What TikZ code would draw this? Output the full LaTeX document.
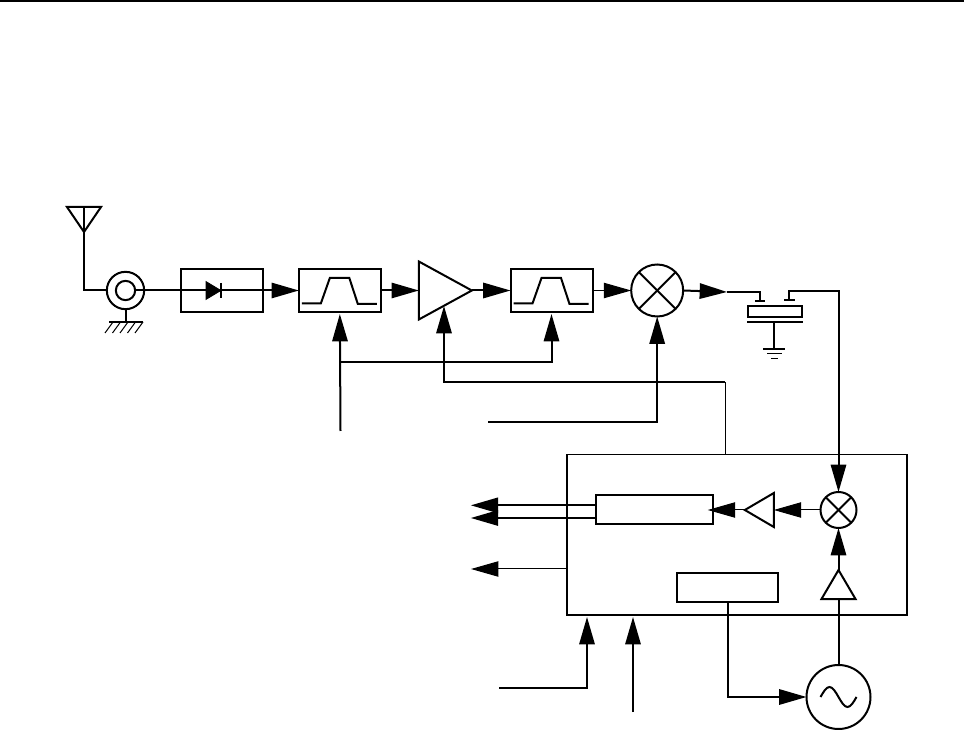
\documentclass[tikz,border=0pt]{standalone}
\usepackage{tikz}
\usetikzlibrary{positioning,arrows.meta,shapes.geometric}

\begin{document}
\begin{tikzpicture}[x=.75pt,y=-.75pt,line join=miter,
  wire/.style={line width=1.5pt},
  hair/.style={line width=.75pt},
  arr/.style={-{Triangle[length=20.5pt,width=11.5pt]},wire},
  arrthin/.style={-{Triangle[length=20.5pt,width=11.5pt]},hair},
  box/.style={draw,wire,inner sep=0pt,outer sep=0pt,minimum width=61.5pt,minimum height=32.25pt},
  tri/.style={isosceles triangle,isosceles triangle stretches,draw,wire,inner sep=0pt,outer sep=0pt},
  band/.style={box,path picture={\draw[wire,shift={(path picture bounding box.center)}]
    (-38,13)--(-19,13)--(-10,-12.5)--(9.5,-12.5)--(18,13.5)--(37,13.5);}},
  mixer/.style={circle,draw,wire,inner sep=0pt,outer sep=0pt,minimum size=#1,path picture={
    \draw[wire] (path picture bounding box.north west)--(path picture bounding box.south east);
    \draw[wire] (path picture bounding box.north east)--(path picture bounding box.south west);}}]
\useasboundingbox (0,0) rectangle (964,730);
\draw[wire] (0,.7)--(964,.7);
% receive chain
\node[tri,shape border rotate=-90,minimum width=25.5pt,minimum height=18.75pt,anchor=north] (ant) at (84,207) {};
\node[circle,draw,wire,inner sep=0pt,outer sep=0pt,minimum size=28pt] (coax) at (125.5,290.5) {};
\node[circle,draw,wire,inner sep=0pt,outer sep=0pt,minimum size=14.5pt] (coaxin) at (125.5,290.5) {};
\node[box,right=27.5pt of coax] (lim) {};
\node[tri,fill=black,minimum width=13.5pt,minimum height=11.25pt,anchor=west,line width=.5pt] (dio) at (206,290.5) {};
\node[band,right=27pt of lim] (bpa) {};
\node[tri,right=28.5pt of bpa,minimum width=43.5pt,minimum height=39.75pt] (amp) {};
\node[band,right=29pt of amp] (bpb) {};
\node[mixer=39pt,right=29pt of bpb] (mixa) {};
\node[draw,wire,inner sep=0pt,outer sep=0pt,minimum width=40.5pt,minimum height=8.25pt] (saw) at (775,311.5) {};
% downconverter box
\node[minimum width=255pt,minimum height=120pt,inner sep=0pt,outer sep=0pt] (chip) at (737,534.5) {};
\node[mixer=27pt] (mixb) at (838.5,510) {};
\node[tri,shape border rotate=180,left=35pt of mixb,minimum width=25.5pt,minimum height=21.75pt] (drv) {};
\node[box,minimum width=87.75pt,minimum height=21.75pt,left=24pt of drv] (adc) {};
\node[tri,shape border rotate=90,below=31.5pt of mixb,minimum width=25.5pt,minimum height=21.75pt] (buf) {};
\node[box,minimum width=75.75pt,minimum height=21.75pt] (syn) at (727.5,587.5) {};
\node[circle,draw,wire,inner sep=0pt,outer sep=0pt,minimum size=48pt] (osc) at (838.5,697) {};
\draw[hair] (chip.north west)--(chip.north east);
\draw[wire] (chip.north west)--(chip.south west)--(chip.south east)--(chip.north east);
% free ends
\coordinate (sawa) at (760,300);
\coordinate (sawb) at (789,300);
\coordinate (tipa) at (727,292);
\coordinate (ctla) at (340.5,431);
\coordinate (ctlb) at (488,422);
\coordinate (ampin) at (444,306);
\coordinate (bus) at (725,382.5);
\coordinate (gnda) at (125.5,322);
\coordinate (gndb) at (774,322);
\coordinate (inc) at (499,688);
\coordinate (ind) at (633,712);
% antenna and limiter
\draw[wire] (ant.north)|-(coax.west);
\draw[wire] (coaxin.east)--(dio.west);
\draw[wire] (dio.east)++(0,-7.5)--++(0,15);
\draw[arr] (dio.east)--(bpa.west);
\draw[wire] (coax.south)--(gnda);
\draw[wire] (109,322)--(143,322);
\foreach \x in {113,120.5,128,135.5,143} {\draw[hair] (\x,322)--++(-8,11);}
% main path
\draw[arr] (bpa.east)--(amp.west);
\draw[arr] (amp.east)--(bpb.west);
\draw[arrthin] (bpb.east)--(mixa.west);
\draw[arr] (mixa.east)--(tipa);
\draw[wire] (tipa)-|(sawa);
\draw[wire] (755,301)--(765,301);
\draw[wire] (784,300)--(795,300);
\draw[arr] (sawb)--++(0,-9)-|(mixb.north);
\draw[wire] (747,322)--(803,322);
\draw[wire] (gndb)--(774,349);
\draw[wire] (763,349)--(785,349);
\draw[hair] (767,354)--(782,354);
\draw[hair] (771,359)--(778,359);
% control lines
\draw[arr] (ctla)--([yshift=-1.5pt]bpa.south);
\draw[arr] (340.5,362)-|([yshift=-1.5pt]bpb.south);
\draw[arr] (bus)-|(ampin);
\draw[hair] (bus)--(bus|-chip.north);
\draw[arr] (ctlb)-|(mixa.south);
% inside the box
\draw[arrthin] (mixb.west)--(drv.east);
\draw[arrthin] (drv.west)--([xshift=-3.75pt]adc.east);
\draw[arr] (buf.north)--(mixb.south);
\draw[wire] (osc.north)--(buf.south);
\draw[arr] (syn.south)|-(osc.west);
\draw[wire] (osc.center)++(-18,0) sin ++(9,-10) cos ++(9,10) sin ++(9,10) cos ++(9,-10);
% outputs and inputs of the box
\draw[arr] ([yshift=3.5pt]adc.west)--++(-93.75pt,0);
\draw[arr] ([yshift=-6pt]adc.west)--++(-93.75pt,0);
\draw[arrthin] (chip.west|-0,569)--(471,569);
\draw[arr] (inc)-|(587,617);
\draw[arr] (ind)--(633,617);
\end{tikzpicture}
\end{document}
